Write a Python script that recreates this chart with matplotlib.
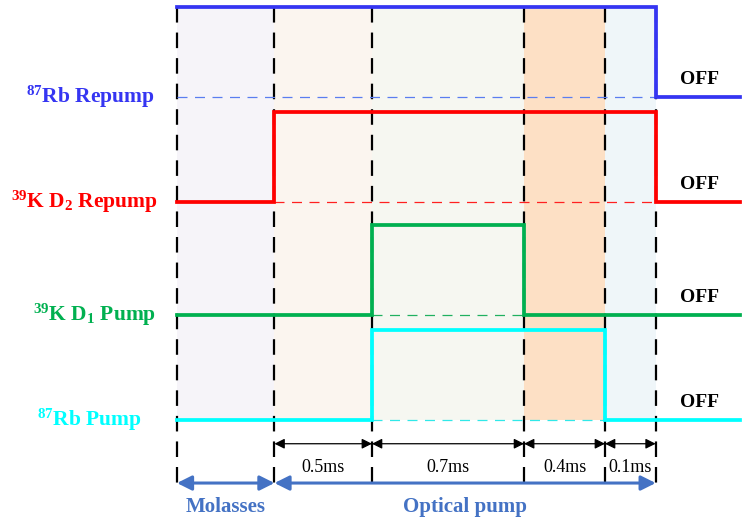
import matplotlib.pyplot as plt

plt.rcParams['font.family'] = ['Liberation Serif', 'DejaVu Serif']

# channels (top to bottom)
channels = [r'$\mathregular{^{87}}$Rb Repump',
            r'$\mathregular{^{39}}$K D$\mathregular{_2}$ Repump',
            r'$\mathregular{^{39}}$K D$\mathregular{_1}$ Pump',
            r'$\mathregular{^{87}}$Rb Pump']
colors = ['#3535f2', '#ff0000', '#00b050', '#00ffff']
base_colors = ['#5a7df0', '#ff2020', '#20b060', '#30e8e8']

# on/off state in each phase: molasses, 0.5ms, 0.7ms, 0.4ms, 0.1ms, after
states = [[1, 1, 1, 1, 1, 0],
          [0, 1, 1, 1, 1, 0],
          [0, 0, 1, 0, 0, 0],
          [0, 0, 1, 1, 0, 0]]

# schematic timeline (not to scale), phase edges
edges = [0, 1.0, 2.0, 3.56, 4.39, 4.91, 5.77]
durations = ['0.5ms', '0.7ms', '0.4ms', '0.1ms']
phase_fill = ['#f6f4f9', '#fbf5ef', '#f6f7f1', '#fde0c5', '#eff6f9']
stages = ['Molasses', 'Optical pump']
stage_span = [(0, 1), (1, 5)]   # indices into edges

rows = [0, 0.975, 2.025, 3.0]
label_shift = [0.23, 0.19, 0.21, 0.36]
amp = 0.835

fig = plt.figure(figsize=(7.45, 5.19), dpi=100)
ax = fig.add_axes([0, 0, 1, 1])
ax.set_xlim(-1.815, 5.826)
ax.set_ylim(3.919, -0.901)
ax.axis('off')

# phase shading
for i, c in enumerate(phase_fill):
    ax.fill_between([edges[i], edges[i + 1]], 3.0, -amp, color=c, lw=0, zorder=0)

# dashed phase boundaries
for x in edges[:6]:
    ax.plot([x, x], [-amp, 3.65], color='black', lw=1.6,
            ls=(0, (7, 4.5)), zorder=1)

for k, (name, st) in enumerate(zip(channels, states)):
    row = rows[k]
    ys = [row - amp * s for s in st] + [row - amp * st[-1]]
    on = [i for i, s in enumerate(st) if s]
    ax.plot([edges[on[0]], edges[on[-1] + 1]], [row, row],
            color=base_colors[k], lw=0.9, ls=(0, (8, 6)), zorder=2)
    ax.step(edges, ys, where='post', color=colors[k], lw=2.7,
            solid_joinstyle='miter', zorder=3)
    ax.text(-label_shift[k], row, name, color=colors[k], fontsize=15.5,
            fontweight='bold', ha='right', va='center')
    ax.text(5.36, row - 0.16, 'OFF', color='black', fontsize=14,
            fontweight='bold', ha='center', va='center')

# duration arrows
for i, d in enumerate(durations):
    x0, x1 = edges[i + 1], edges[i + 2]
    ax.annotate('', xy=(x1, 3.22), xytext=(x0, 3.22),
                arrowprops=dict(arrowstyle='<|-|>', color='black', lw=0.9,
                                mutation_scale=15, shrinkA=0, shrinkB=0))
    ax.text((x0 + x1) / 2, 3.44, d, fontsize=13, ha='center', va='center')

# stage arrows
for s, (a, b) in zip(stages, stage_span):
    ax.annotate('', xy=(edges[b], 3.585), xytext=(edges[a], 3.585),
                arrowprops=dict(arrowstyle='<|-|>', color='#4472c4', lw=2.2,
                                mutation_scale=22, shrinkA=0, shrinkB=0))
    ax.text((edges[a] + edges[b]) / 2, 3.81, s, color='#4472c4', fontsize=15,
            fontweight='bold', ha='center', va='center')

fig.savefig('out.png', dpi=100)
